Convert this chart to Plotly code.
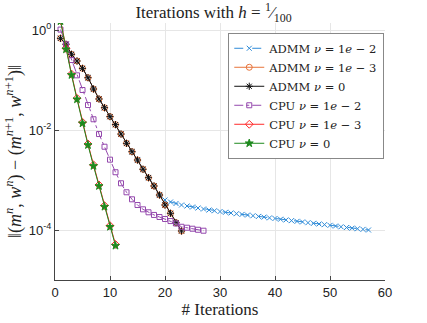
import plotly.graph_objects as go

# iteration numbers
it_admm_1e2 = list(range(1, 58))
it_admm = list(range(1, 24))
it_cpu_1e2 = list(range(1, 28))
it_cpu = list(range(1, 12))

# residuals ||(m^n, w^n) - (m^{n+1}, w^{n+1})||
admm_nu0 = [0.682, 0.518, 0.327, 0.240, 0.171, 0.111, 0.066, 0.0417, 0.0279, 0.0185,
            0.0128, 0.0083, 0.00542, 0.00368, 0.00251, 0.00164, 0.00111, 0.000759,
            0.000501, 0.000316, 0.000216, 0.000140, 0.0000955]
admm_nu1e3 = [0.682, 0.518, 0.327, 0.240, 0.171, 0.111, 0.066, 0.0417, 0.0279, 0.0185,
              0.0128, 0.0083, 0.00542, 0.00368, 0.00251, 0.00164, 0.00111, 0.000759,
              0.000501, 0.000316, 0.000216, 0.000140, 0.0000955]
admm_nu1e2 = [0.682, 0.518, 0.327, 0.240, 0.171, 0.111, 0.066, 0.0417, 0.0279, 0.0185,
              0.0128, 0.0083, 0.00542, 0.00368, 0.00251, 0.00164, 0.00111, 0.000759,
              0.000501, 0.000398, 0.000363, 0.000339, 0.000316, 0.000302, 0.000288,
              0.000275, 0.000263, 0.000251, 0.000243, 0.000234, 0.000226, 0.000219,
              0.000212, 0.000205, 0.000199, 0.000193, 0.000187, 0.000181, 0.000175,
              0.000170, 0.000164, 0.000159, 0.000154, 0.000149, 0.000145, 0.000140,
              0.000136, 0.000132, 0.000128, 0.000124, 0.000120, 0.000116, 0.000112,
              0.000109, 0.000106, 0.000103, 0.000100]
cpu_nu1e2 = [1.02, 0.518, 0.251, 0.124, 0.0631, 0.0316, 0.0164, 0.0083, 0.00463, 0.00255,
             0.00143, 0.00086, 0.000568, 0.000411, 0.000316, 0.000259, 0.000226, 0.000200,
             0.000182, 0.000166, 0.000151, 0.000135, 0.000116, 0.000111, 0.000106,
             0.000101, 0.0000968]
cpu_nu1e3 = [1.55, 0.43, 0.132, 0.0432, 0.0143, 0.00526, 0.00201, 0.000797, 0.000307,
             0.000122, 0.0000515]
cpu_nu0 = [1.5, 0.411, 0.126, 0.0411, 0.0136, 0.00501, 0.00191, 0.000759, 0.000292,
           0.000116, 0.0000485]

series = [
    ('ADMM <i>ν</i> = 1<i>e</i> − 2', it_admm_1e2, admm_nu1e2, '#2e8bd8', 'dash', 'x-thin-open', 5),
    ('ADMM <i>ν</i> = 1<i>e</i> − 3', it_admm, admm_nu1e3, '#e8743b', 'solid', 'circle-open', 6),
    ('ADMM <i>ν</i> = 0', it_admm, admm_nu0, '#111111', 'solid', 'asterisk-open', 6),
    ('CPU <i>ν</i> = 1<i>e</i> − 2', it_cpu_1e2, cpu_nu1e2, '#9448ad', 'dashdot', 'square-open', 5),
    ('CPU <i>ν</i> = 1<i>e</i> − 3', it_cpu, cpu_nu1e3, '#ff2a2a', 'solid', 'diamond-open', 6),
    ('CPU <i>ν</i> = 0', it_cpu, cpu_nu0, '#1e8a1e', 'solid', 'star', 6),
]

fig = go.Figure()
for name, x, y, color, dash, symbol, size in series:
    fig.add_trace(go.Scatter(
        x=x, y=y, name=name, mode='lines+markers',
        line=dict(color=color, width=1, dash=dash),
        marker=dict(symbol=symbol, size=size, color=color, line=dict(width=1, color=color)),
    ))

serif = 'Liberation Serif'
sans = 'Liberation Sans'

fig.update_layout(
    width=427, height=323,
    template='plotly_white',
    paper_bgcolor='white', plot_bgcolor='white',
    margin=dict(l=55, r=42, t=23, b=43, autoexpand=False),
    title=dict(text='Iterations with <i>h</i> = <sup>1</sup>⁄<sub>100</sub>',
               x=0.5, xanchor='center', y=0.962, yanchor='middle',
               font=dict(family=serif, size=17, color='#222')),
    legend=dict(x=0.525, y=0.962, xanchor='left', yanchor='top',
                bgcolor='white', bordercolor='#888', borderwidth=1,
                font=dict(family='DejaVu Serif', size=11.5, color='#222'),
                itemwidth=30, tracegroupgap=0),
    showlegend=True,
)

fig.update_xaxes(
    range=[0, 60], tickvals=[0, 10, 20, 30, 40, 50, 60],
    showgrid=True, gridcolor='#e6e6e6', gridwidth=1, zeroline=False,
    showline=True, linecolor='#444', linewidth=1, automargin=False,
    ticks='inside', ticklen=4, tickcolor='#444',
    tickfont=dict(family=sans, size=13, color='#222'),
    title=dict(text='# Iterations', font=dict(family=serif, size=17, color='#222'), standoff=4),
)
fig.update_yaxes(
    type='log', range=[-5, 0.14], automargin=False,
    tickvals=[1, 1e-2, 1e-4], ticktext=['10<sup>0</sup>', '10<sup>-2</sup>', '10<sup>-4</sup>'],
    showgrid=True, gridcolor='#e6e6e6', gridwidth=1, zeroline=False,
    showline=True, linecolor='#444', linewidth=1,
    ticks='inside', ticklen=4, tickcolor='#444',
    tickfont=dict(family=sans, size=13, color='#222'),
    title=dict(text='‖(<i>m</i><sup><i>n</i></sup>, <i>w</i><sup><i>n</i></sup>) − '
                    '(<i>m</i><sup><i>n</i>+1</sup>, <i>w</i><sup><i>n</i>+1</sup>)‖',
               font=dict(family=serif, size=18, color='#222'), standoff=2),
)

# the page body has a default 8px margin; drop it so the figure sits at (0, 0)
fig.write_html("out.html", config={'displayModeBar': False},
               post_script="document.body.style.margin='0';")
